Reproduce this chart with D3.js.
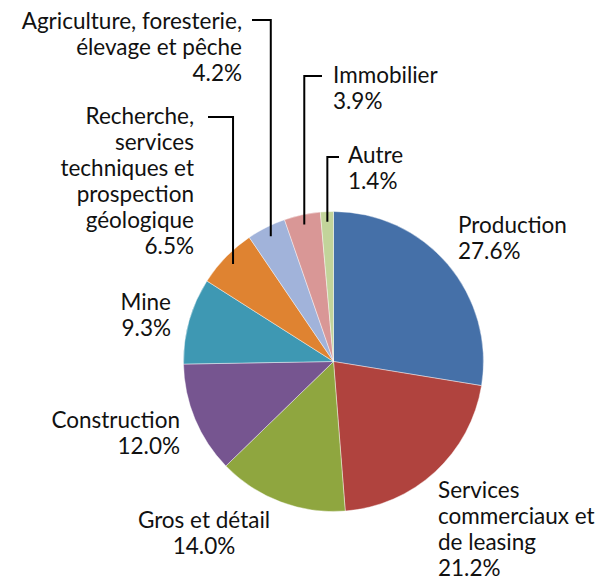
<!DOCTYPE html>
<html>
<head>
<meta charset="utf-8">
<script src="https://cdn.jsdelivr.net/npm/d3@7"></script>
<style>
  body { margin: 0; background: #fff; }
  text { font-family: Lato, "Open Sans", sans-serif; font-size: 22.5px; fill: #111; }
</style>
</head>
<body>
<svg width="611" height="583"></svg>
<script>
const categories = ["Production", "Services commerciaux et de leasing", "Gros et détail", "Construction",
  "Mine", "Recherche, services techniques et prospection géologique",
  "Agriculture, foresterie, élevage et pêche", "Immobilier", "Autre"];
const values = [27.6, 21.2, 14.0, 12.0, 9.3, 6.5, 4.2, 3.9, 1.4];
const colors = ["#4570a8", "#b0433e", "#8fa63f", "#765590", "#3e98b3", "#df8331", "#a1b3da", "#d99796", "#c2d49a"];

// label layout: text lines, anchor point, alignment, and optional leader line y
const labelLayout = [
  { lines: ["Production"], x: 458, y: 233, anchor: "start" },
  { lines: ["Services", "commerciaux et", "de leasing"], x: 438, y: 498, anchor: "start" },
  { lines: ["Gros et détail"], x: 204, y: 528, anchor: "middle" },
  { lines: ["Construction"], x: 180, y: 428, anchor: "end" },
  { lines: ["Mine"], x: 171, y: 310, anchor: "end" },
  { lines: ["Recherche,", "services", "techniques et", "prospection", "géologique"], x: 194, y: 124, anchor: "end", leaderY: 117, leaderX: 208 },
  { lines: ["Agriculture, foresterie,", "élevage et pêche"], x: 242, y: 29, anchor: "end", leaderY: 20, leaderX: 252 },
  { lines: ["Immobilier"], x: 333, y: 83, anchor: "start", leaderY: 76, leaderX: 322 },
  { lines: ["Autre"], x: 348, y: 163, anchor: "start", leaderY: 157, leaderX: 339 }
];

const svg = d3.select("svg");
const cx = 333.5, cy = 361.5, radius = 150;
const lineH = 26;

const g = svg.append("g").attr("transform", `translate(${cx},${cy})`);

const pie = d3.pie().value(d => d.value).sort(null);
const arc = d3.arc().innerRadius(0).outerRadius(radius);
const leaderArc = d3.arc().innerRadius(140).outerRadius(140);

const data = categories.map((c, i) => ({ name: c, value: values[i], color: colors[i], layout: labelLayout[i] }));
const arcs = pie(data);

g.selectAll("path")
  .data(arcs)
  .enter()
  .append("path")
  .attr("d", arc)
  .attr("fill", d => d.data.color)
  .attr("stroke", "#fff")
  .attr("stroke-width", 0.6)
  .attr("stroke-opacity", 0.7);

// leader lines
arcs.filter(d => d.data.layout.leaderY !== undefined).forEach(d => {
  const L = d.data.layout;
  const p = leaderArc.centroid(d);
  const px = cx + p[0], py = cy + p[1];
  svg.append("path")
    .attr("d", `M${px},${py}V${L.leaderY}H${L.leaderX}`)
    .attr("fill", "none")
    .attr("stroke", "#000")
    .attr("stroke-width", 2);
});

// labels
arcs.forEach(d => {
  const L = d.data.layout;
  const t = svg.append("text")
    .attr("text-anchor", L.anchor)
    .attr("x", L.x)
    .attr("y", L.y);
  const lines = L.lines.concat([d.data.value.toFixed(1) + "%"]);
  lines.forEach((s, i) => {
    t.append("tspan").attr("x", L.x).attr("dy", i === 0 ? 0 : lineH).text(s);
  });
});
</script>
</body>
</html>
